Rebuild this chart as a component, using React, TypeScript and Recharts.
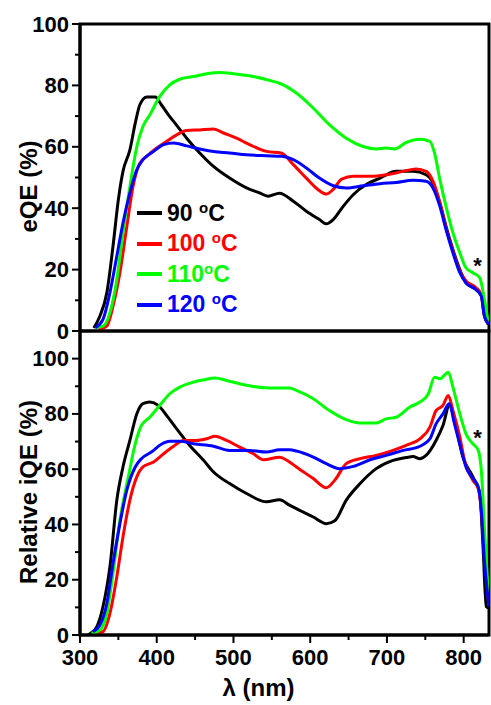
import React from 'react';
import { LineChart, Line, XAxis, YAxis, ReferenceArea, ReferenceDot, Legend } from 'recharts';

const FONT = '"Liberation Sans", Arial, Helvetica, sans-serif';

type P = [number, number];

// eQE (%) vs wavelength (nm)
const eqe90: P[] = [
  [318, 1], [326, 4.9], [335, 12.5], [343, 27.6], [350, 42.8], [356, 52], [365, 59], [372, 67.7], [378, 73.7],
  [387, 76.2], [398, 76.2], [406, 73.7], [415, 70.5], [426, 67], [439, 62.8], [456, 58], [474, 53.6], [495, 49.8],
  [517, 46.6], [534, 45], [545, 43.9], [560, 44.9], [578, 42.3], [595, 39], [612, 36.3], [621, 34.9], [630, 36.3],
  [643, 40.6], [656, 44.4], [673, 47.7], [691, 49.8], [712, 52], [734, 52], [751, 50.9], [760, 48.2], [769, 41.7],
  [777, 34.1], [786, 26.5], [795, 20], [803, 15.7], [816, 13.5], [823, 11.4], [827, 4.9], [832, 2.2],
];
const eqe100: P[] = [
  [324, 0.5], [335, 1.6], [343, 8.1], [352, 19], [361, 34], [369, 47], [378, 54.7], [387, 56.9], [400, 59.6],
  [413, 61.8], [426, 63.9], [439, 65.3], [456, 65.5], [474, 65.8], [487, 64.5], [504, 62.8], [521, 60.7], [543, 58.5],
  [562, 58], [578, 54.2], [595, 49.8], [610, 46.1], [621, 44.6], [630, 46.1], [641, 49.5], [656, 50.4], [678, 50.4],
  [699, 50.9], [721, 52], [738, 52.8], [751, 52], [760, 48.8], [769, 41.7], [777, 33.6], [786, 26], [795, 19.5],
  [803, 16.3], [816, 14.1], [823, 11.9], [827, 5.4], [832, 2.2],
];
const eqe110: P[] = [
  [320, 1.1], [330, 1.6], [339, 6], [348, 16.8], [356, 32], [365, 47], [374, 60], [382, 66.6], [391, 70.4],
  [404, 76.4], [417, 80.2], [430, 82], [448, 82.9], [465, 83.8], [482, 84.2], [500, 83.8], [526, 82.9], [552, 81.3],
  [560, 80.7], [582, 77.5], [604, 72.6], [625, 67.2], [647, 62.8], [669, 60.1], [686, 59.3], [699, 59.6], [710, 59.3],
  [725, 61.4], [743, 62.5], [756, 61.8], [762, 58], [769, 49.3], [777, 40.6], [786, 32], [795, 25.5], [803, 20.6],
  [812, 19], [821, 17.3], [827, 10.3], [832, 2.7],
];
const eqe120: P[] = [
  [320, 1.1], [330, 3.8], [339, 12.5], [348, 24.4], [356, 35.2], [365, 45], [374, 52.5], [382, 55.8], [396, 58.5],
  [409, 60.7], [422, 61.2], [439, 60.3], [456, 59.3], [474, 58.5], [495, 58], [517, 57.4], [543, 57.1], [563, 56.9],
  [578, 55.8], [595, 53.1], [612, 49.8], [630, 47.3], [647, 46.6], [669, 47.3], [691, 48], [712, 48.4], [734, 49.1],
  [751, 48.8], [760, 46.6], [769, 40.6], [777, 33], [786, 25.5], [795, 19], [803, 15.7], [816, 13.5], [823, 11.4],
  [827, 4.9], [833, 2.2],
];

// Relative iQE (%) vs wavelength (nm)
const iqe90: P[] = [
  [310, 0], [315, 0.8], [322, 3], [330, 10.3], [339, 24.7], [348, 48.8], [356, 60.8], [365, 70.4], [374, 80],
  [382, 83.7], [391, 84.3], [402, 83.1], [413, 79.4], [426, 74.6], [443, 68.6], [461, 63.2], [474, 59], [495, 54.8],
  [517, 51.2], [543, 48.2], [560, 48.9], [573, 47], [582, 45.7], [604, 42.7], [621, 40.3], [632, 41.3], [647, 48.8],
  [665, 54.8], [686, 60.2], [708, 63.2], [725, 64.2], [734, 64.6], [743, 63.8], [751, 65], [764, 70.4], [773, 75.8],
  [782, 83.7], [790, 75.2], [799, 64.4], [812, 57.2], [821, 51.2], [825, 33.1], [829.5, 10.3], [833, 9.7],
];
const iqe100: P[] = [
  [322, 0.6], [330, 1.2], [339, 7.8], [348, 21.1], [356, 35.5], [365, 48.8], [374, 57.2], [382, 60.8], [396, 62.6],
  [409, 65.6], [422, 68.3], [435, 70.4], [452, 70.4], [465, 71], [476, 71.9], [491, 70.4], [508, 68], [526, 65.6],
  [539, 63.4], [560, 64.3], [573, 62.6], [582, 60.8], [604, 56.6], [621, 53.3], [632, 56], [647, 62], [665, 63.8],
  [686, 65], [708, 66.8], [725, 68.6], [743, 71], [756, 75.2], [764, 81.2], [773, 83.1], [780, 86.7], [786, 81.2],
  [795, 71.6], [801, 63.2], [812, 56], [819, 53], [823, 45.1], [827, 29.5], [832, 12.7],
];
const iqe110: P[] = [
  [315, 0.6], [326, 1.8], [335, 7.8], [343, 22.3], [352, 41.5], [363, 57.2], [372, 69.2], [380, 75.8], [391, 78.8],
  [404, 83.1], [417, 87.3], [430, 89.7], [448, 91.5], [461, 92.3], [476, 93], [491, 92.1], [508, 90.9], [526, 89.9],
  [547, 89.4], [560, 89.4], [573, 89.4], [582, 88.5], [604, 85.5], [625, 81.2], [647, 77.9], [665, 76.7], [686, 76.7],
  [699, 78.2], [712, 78.8], [730, 82.5], [743, 84.3], [754, 87.3], [762, 93.3], [769, 92.7], [780, 95.1], [786, 89.7],
  [795, 80], [803, 72.8], [812, 69.2], [819, 66.8], [823, 59.6], [827, 39.1], [832, 15.1],
];
const iqe120: P[] = [
  [317, 1.2], [326, 3.6], [335, 11.5], [343, 25.9], [352, 40.3], [361, 52.4], [372, 60.8], [380, 63.8], [393, 66.2],
  [406, 69], [417, 70.1], [430, 70.1], [448, 69.2], [474, 68.3], [495, 66.8], [521, 66.8], [543, 66.2], [560, 67],
  [573, 67], [582, 66.6], [604, 64.4], [621, 62], [638, 60.2], [656, 61], [678, 63.4], [699, 65], [721, 66.8],
  [743, 68.3], [756, 71], [764, 76.4], [773, 80], [781, 83.7], [788, 76.4], [797, 66.8], [803, 60.8], [812, 56.6],
  [819, 53.6], [823, 45.1], [827, 27.1], [833, 10.3],
];

const seriesNames = ['90', '100', '110', '120'];
const seriesSeps = [' ', ' ', '', ' '];
const seriesColors = ['#000000', '#ff0000', '#00ff00', '#0000ff'];
const eqeSeries = [eqe90, eqe100, eqe110, eqe120];
const iqeSeries = [iqe90, iqe100, iqe110, iqe120];

const xDomain: [number, number] = [300, 833];
const xTicks = [300, 350, 400, 450, 500, 550, 600, 650, 700, 750, 800];
const yTicks = [0, 10, 20, 30, 40, 50, 60, 70, 80, 90, 100];

const toPts = (a: P[]) => a.map(([x, y]) => ({ x, y }));

const YTick = (props: any) => {
  const { x, y, payload } = props;
  const v = payload.value;
  const major = v % 20 === 0;
  return (
    <g>
      <line x1={x - (major ? 8 : 5)} x2={x} y1={y} y2={y} stroke="#000" strokeWidth={2} />
      {major && (
        <text x={x - 11} y={y} textAnchor="end" dominantBaseline="central" fontFamily={FONT} fontWeight={700} fontSize={22} fill="#000">
          {v}
        </text>
      )}
    </g>
  );
};

const XTick = (props: any) => {
  const { x, y, payload } = props;
  const v = payload.value;
  const major = v % 100 === 0;
  return (
    <g>
      <line x1={x} x2={x} y1={y} y2={y + (major ? 8 : 5)} stroke="#000" strokeWidth={2} />
      {major && (
        <text x={x} y={y + 22} textAnchor="middle" dominantBaseline="central" fontFamily={FONT} fontWeight={700} fontSize={22} fill="#000">
          {v}
        </text>
      )}
    </g>
  );
};

const makeYTitle = (text: string) => (p: any) => {
  const vb = p.viewBox || { x: 0, y: 0, width: 80, height: 300 };
  const cx = vb.x + 28;
  const cy = vb.y + vb.height / 2 + 9;
  return (
    <text x={cx} y={cy} transform={`rotate(-90, ${cx}, ${cy})`} textAnchor="middle" dominantBaseline="central" fontFamily={FONT} fontWeight={700} fontSize={24} fill="#000">
      {text}
    </text>
  );
};

const XTitle = (p: any) => {
  const vb = p.viewBox || { x: 80, y: 635, width: 409, height: 70 };
  const cx = vb.x + vb.width / 2 - 26;
  const cy = vb.y + 52;
  return (
    <text x={cx} y={cy} textAnchor="middle" dominantBaseline="central" fontFamily={FONT} fontWeight={700} fontSize={24} fill="#000">
      λ (nm)
    </text>
  );
};

const renderLegend = () => (
  <div style={{ fontFamily: FONT, fontWeight: 700, fontSize: 23 }}>
    {seriesNames.map((n, i) => (
      <div key={n} style={{ display: 'flex', alignItems: 'center', height: 30.5, color: seriesColors[i], whiteSpace: 'pre' }}>
        <span style={{ display: 'inline-block', width: 25, height: 4, background: seriesColors[i], marginRight: 5 }} />
        <span>
          {n}
          {seriesSeps[i]}
          <span style={{ fontSize: 15, position: 'relative', top: -8 }}>o</span>C
        </span>
      </div>
    ))}
  </div>
);

export default function App() {
  return (
    <div style={{ position: 'absolute', left: 0, top: 0, width: 491, height: 705, background: '#fff' }}>
      <div style={{ position: 'absolute', left: 0, top: 0 }}>
        <LineChart width={491} height={352} margin={{ top: 24, right: 2, bottom: 21, left: 0 }}>
          <XAxis type="number" dataKey="x" domain={xDomain} allowDataOverflow hide />
          <YAxis
            type="number"
            domain={[0, 100]}
            allowDataOverflow
            ticks={yTicks}
            interval={0}
            width={80}
            tickSize={0}
            tickMargin={0}
            tickLine={false}
            tick={<YTick />}
            axisLine={{ stroke: '#000', strokeWidth: 3 }}
            label={{ content: makeYTitle('eQE (%)') }}
          />
          <ReferenceArea x1={300} x2={833} y1={0} y2={100} fill="none" stroke="#000" strokeWidth={3} />
          {eqeSeries.map((s, i) => (
            <Line
              key={seriesNames[i]}
              data={toPts(s)}
              dataKey="y"
              name={seriesNames[i]}
              type="monotone"
              stroke={seriesColors[i]}
              strokeWidth={3}
              dot={false}
              activeDot={false}
              isAnimationActive={false}
            />
          ))}
          <ReferenceDot x={818} y={21.5} r={0} fill="none" stroke="none"
            label={{ value: '*', position: 'center', fontSize: 22, fontWeight: 700, fill: '#000', fontFamily: FONT }} />
          <Legend
            layout="vertical"
            align="center"
            verticalAlign="middle"
            content={renderLegend}
            wrapperStyle={{ left: 137, top: 198, width: 'auto', height: 'auto' }}
          />
        </LineChart>
      </div>
      <div style={{ position: 'absolute', left: 0, top: 300 }}>
        <LineChart width={491} height={405} margin={{ top: 31, right: 2, bottom: 0, left: 0 }}>
          <XAxis
            type="number"
            dataKey="x"
            domain={xDomain}
            allowDataOverflow
            ticks={xTicks}
            interval={0}
            height={70}
            tickSize={0}
            tickMargin={0}
            tickLine={false}
            tick={<XTick />}
            axisLine={{ stroke: '#000', strokeWidth: 3 }}
            label={{ content: XTitle }}
          />
          <YAxis
            type="number"
            domain={[0, 110]}
            allowDataOverflow
            ticks={yTicks}
            interval={0}
            width={80}
            tickSize={0}
            tickMargin={0}
            tickLine={false}
            tick={<YTick />}
            axisLine={{ stroke: '#000', strokeWidth: 3 }}
            label={{ content: makeYTitle('Relative iQE (%)') }}
          />
          <ReferenceArea x1={300} x2={833} y1={0} y2={110} fill="none" stroke="#000" strokeWidth={3} />
          {iqeSeries.map((s, i) => (
            <Line
              key={seriesNames[i]}
              data={toPts(s)}
              dataKey="y"
              name={seriesNames[i]}
              type="monotone"
              stroke={seriesColors[i]}
              strokeWidth={3}
              dot={false}
              activeDot={false}
              isAnimationActive={false}
            />
          ))}
          <ReferenceDot x={818} y={71.7} r={0} fill="none" stroke="none"
            label={{ value: '*', position: 'center', fontSize: 22, fontWeight: 700, fill: '#000', fontFamily: FONT }} />
        </LineChart>
      </div>
    </div>
  );
}
